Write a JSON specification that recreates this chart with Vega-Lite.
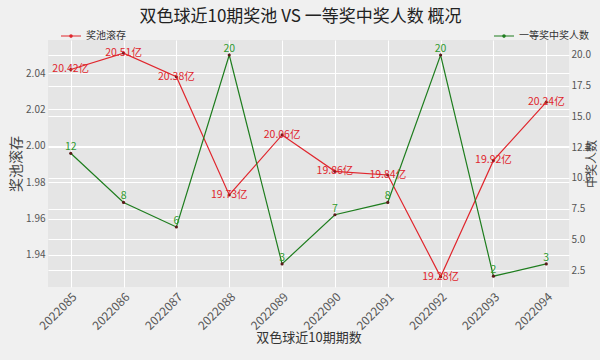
{
  "$schema": "https://vega.github.io/schema/vega-lite/v6.json",
  "width": 521,
  "height": 247,
  "autosize": {"type": "none"},
  "padding": {"left": 48, "top": 40, "right": 31, "bottom": 73},
  "background": "#f0f0f0",
  "title": {
    "text": "双色球近10期奖池 VS 一等奖中奖人数 概况",
    "fontSize": 17,
    "font": "Noto Sans CJK SC",
    "fontWeight": "normal",
    "color": "#222222",
    "anchor": "middle",
    "dx": -8,
    "offset": -1
  },
  "config": {
    "font": "Noto Sans CJK SC",
    "view": {"fill": "#e5e5e5", "stroke": null},
    "axis": {
      "domain": false,
      "ticks": false,
      "gridColor": "#ffffff",
      "gridWidth": 1,
      "labelColor": "#555555",
      "titleColor": "#444444",
      "titleFontWeight": "normal",
      "labelFont": "Noto Sans CJK SC",
      "titleFont": "Noto Sans CJK SC"
    },
    "legend": {"padding": 0}
  },
  "data": {
    "values": [
      {"period": "2022085", "pool": 2042000000, "winners": 12, "label": "20.42亿"},
      {"period": "2022086", "pool": 2051000000, "winners": 8, "label": "20.51亿"},
      {"period": "2022087", "pool": 2038000000, "winners": 6, "label": "20.38亿"},
      {"period": "2022088", "pool": 1973000000, "winners": 20, "label": "19.73亿"},
      {"period": "2022089", "pool": 2006000000, "winners": 3, "label": "20.06亿"},
      {"period": "2022090", "pool": 1986000000, "winners": 7, "label": "19.86亿"},
      {"period": "2022091", "pool": 1984000000, "winners": 8, "label": "19.84亿"},
      {"period": "2022092", "pool": 1928000000, "winners": 20, "label": "19.28亿"},
      {"period": "2022093", "pool": 1992000000, "winners": 2, "label": "19.92亿"},
      {"period": "2022094", "pool": 2024000000, "winners": 3, "label": "20.24亿"}
    ]
  },
  "encoding": {
    "x": {
      "field": "period",
      "type": "ordinal",
      "scale": {"type": "point", "padding": 0.43},
      "axis": {
        "title": "双色球近10期期数",
        "titleFontSize": 13,
        "titleColor": "#333333",
        "titlePadding": 0,
        "labelAngle": -45,
        "labelFontSize": 12,
        "labelPadding": 4,
        "grid": true
      }
    }
  },
  "layer": [
    {
      "encoding": {
        "y": {
          "field": "pool",
          "type": "quantitative",
          "scale": {"domain": [1922400000, 2058200000], "nice": false, "zero": false},
          "axis": {
            "orient": "left",
            "title": "奖池滚存",
            "titleFontSize": 14,
            "titlePadding": 2,
            "values": [1940000000, 1960000000, 1980000000, 2000000000, 2020000000, 2040000000],
            "labelExpr": "format(datum.value/1e9, '.2f')",
            "labelFontSize": 10,
            "labelPadding": 3,
            "grid": true
          }
        }
      },
      "layer": [
        {
          "mark": {"type": "line", "strokeWidth": 1.2},
          "encoding": {
            "color": {
              "datum": "奖池滚存",
              "scale": {"range": ["#e0262d"]},
              "legend": {
                "title": null,
                "orient": "none",
                "legendX": 12,
                "legendY": -15,
                "symbolType": "M-1,0H1M-0.12,0a0.12,0.12 0 1,0 0.24,0a0.12,0.12 0 1,0 -0.24,0",
                "symbolSize": 400,
                "symbolStrokeWidth": 1.2,
                "labelFontSize": 10,
                "labelColor": "#333333"
              }
            }
          }
        },
        {
          "mark": {"type": "point", "filled": true, "size": 10, "color": "#7a1515", "opacity": 1}
        },
        {
          "mark": {"type": "text", "color": "#e0262d", "fontSize": 10.5, "align": "center", "baseline": "alphabetic", "dy": 3},
          "encoding": {"text": {"field": "label"}}
        }
      ]
    },
    {
      "encoding": {
        "y": {
          "field": "winners",
          "type": "quantitative",
          "scale": {"domain": [1.12, 21.22], "nice": false, "zero": false},
          "axis": {
            "orient": "right",
            "title": "中奖人数",
            "titleFontSize": 12,
            "titleAngle": 270,
            "titlePadding": 8,
            "values": [2.5, 5, 7.5, 10, 12.5, 15, 17.5, 20],
            "format": ".1f",
            "labelFontSize": 10,
            "labelPadding": 2,
            "grid": true
          }
        }
      },
      "layer": [
        {
          "mark": {"type": "line", "strokeWidth": 1.2},
          "encoding": {
            "color": {
              "datum": "一等奖中奖人数",
              "scale": {"range": ["#1e7d1e"]},
              "legend": {
                "title": null,
                "orient": "none",
                "legendX": 445,
                "legendY": -15,
                "symbolType": "M-1,0H1M-0.12,0a0.12,0.12 0 1,0 0.24,0a0.12,0.12 0 1,0 -0.24,0",
                "symbolSize": 400,
                "symbolStrokeWidth": 1.2,
                "labelFontSize": 10,
                "labelColor": "#333333"
              }
            }
          }
        },
        {
          "mark": {"type": "point", "filled": true, "size": 10, "color": "#5a1a1a", "opacity": 1}
        },
        {
          "mark": {"type": "text", "color": "#2f9a2f", "fontSize": 10.5, "align": "center", "baseline": "bottom", "dy": -1},
          "encoding": {"text": {"field": "winners"}}
        }
      ]
    }
  ],
  "resolve": {"scale": {"y": "independent", "color": "independent"}, "legend": {"color": "independent"}}
}
